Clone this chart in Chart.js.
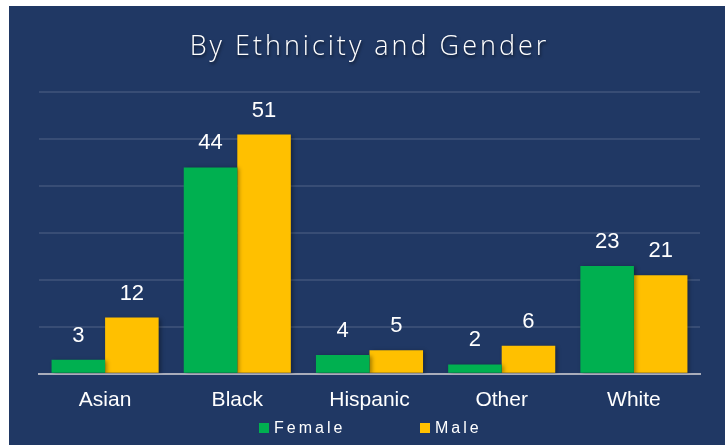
<!DOCTYPE html>
<html>
<head>
<meta charset="utf-8">
<script src="https://cdn.jsdelivr.net/npm/chart.js@4.4.0/dist/chart.umd.min.js"></script>
<style>
  html, body { margin: 0; padding: 0; background: #ffffff; }
  #wrap { position: absolute; left: 9px; top: 6px; width: 716px; height: 439px; background: #203864; }
  #legend { position: absolute; left: 0; top: 413px; width: 716px; height: 22px;
    font-family: "Liberation Sans", Arial, sans-serif; font-size: 16px; color: #ffffff; }
  .item { position: absolute; top: 0; display: flex; align-items: center; letter-spacing: 3px; }
  .box { width: 10px; height: 10px; margin-right: 5px; }
</style>
</head>
<body>
<div id="wrap">
  <canvas id="barChart" width="716" height="439"></canvas>
  <div id="legend"></div>
</div>
<script>
var categories = ['Asian', 'Black', 'Hispanic', 'Other', 'White'];
var female = [3, 44, 4, 2, 23];
var male = [12, 51, 5, 6, 21];
var seriesNames = ['Female', 'Male'];
var seriesColors = ['#00b050', '#ffc000'];

var ctx = document.getElementById('barChart').getContext('2d');

// titre avec espacement + ombre
var spacingPlugin = {
  id: 'spacing',
  afterInit: function(chart) {
    var tb = chart.titleBlock;
    var origDraw = tb.draw.bind(tb);
    tb.draw = function() {
      var c = chart.ctx;
      c.save();
      c.letterSpacing = '3px';
      c.shadowColor = 'rgba(0,0,0,0.55)';
      c.shadowBlur = 3;
      c.shadowOffsetX = 1;
      c.shadowOffsetY = 2;
      origDraw();
      c.restore();
    };
  },
  beforeDatasetsDraw: function(chart) {
    var c = chart.ctx;
    c.save();
    c.shadowColor = 'rgba(0,0,0,0.35)';
    c.shadowBlur = 4;
    c.shadowOffsetX = 2;
    c.shadowOffsetY = 1;
  },
  afterDatasetsDraw: function(chart) {
    var c = chart.ctx;
    c.restore();
    c.save();
    c.fillStyle = '#ffffff';
    c.font = '22px "Liberation Sans", Arial, sans-serif';
    c.textAlign = 'center';
    c.textBaseline = 'alphabetic';
    chart.data.datasets.forEach(function(ds, i) {
      var meta = chart.getDatasetMeta(i);
      meta.data.forEach(function(bar, j) {
        c.fillText(ds.data[j], bar.x, bar.y - 18);
      });
    });
    c.restore();
  }
};

var myChart = new Chart(ctx, {
  type: 'bar',
  data: {
    labels: categories,
    datasets: [{
      label: seriesNames[0],
      data: female,
      backgroundColor: seriesColors[0],
      categoryPercentage: 0.81,
      barPercentage: 1.0
    }, {
      label: seriesNames[1],
      data: male,
      backgroundColor: seriesColors[1],
      categoryPercentage: 0.81,
      barPercentage: 1.0
    }]
  },
  options: {
    responsive: false,
    animation: false,
    layout: { padding: { left: 30, right: 25, top: 0, bottom: 26 } },
    scales: {
      y: {
        min: 0, max: 60,
        ticks: { display: false, stepSize: 10 },
        border: { display: false },
        grid: {
          drawTicks: false,
          color: function(c) { return c.tick.value === 0 ? 'rgba(0,0,0,0)' : 'rgba(255,255,255,0.11)'; },
          lineWidth: 2
        },
        afterFit: function(s) { s.width = 0; }
      },
      x: {
        grid: { display: false },
        border: { display: true, color: '#a9adbb', width: 2 },
        ticks: {
          color: '#ffffff',
          padding: 6,
          font: { family: '"Liberation Sans", Arial, sans-serif', size: 21 }
        }
      }
    },
    plugins: {
      legend: { display: false },
      tooltip: { enabled: false },
      title: {
        display: true,
        text: 'By Ethnicity and Gender',
        color: '#ffffff',
        padding: { top: 25, bottom: 29 },
        font: { family: '"Open Sans", sans-serif', size: 27, weight: 300, lineHeight: 1.2 }
      }
    }
  },
  plugins: [spacingPlugin]
});

// legende en bas
var legend = document.getElementById('legend');
var legendLeft = [250, 411];
seriesNames.forEach(function(name, i) {
  var it = document.createElement('div');
  it.className = 'item';
  it.style.left = legendLeft[i] + 'px';
  var box = document.createElement('span');
  box.className = 'box';
  box.style.background = seriesColors[i];
  var txt = document.createElement('span');
  txt.textContent = name;
  it.appendChild(box);
  it.appendChild(txt);
  legend.appendChild(it);
});
</script>
</body>
</html>
